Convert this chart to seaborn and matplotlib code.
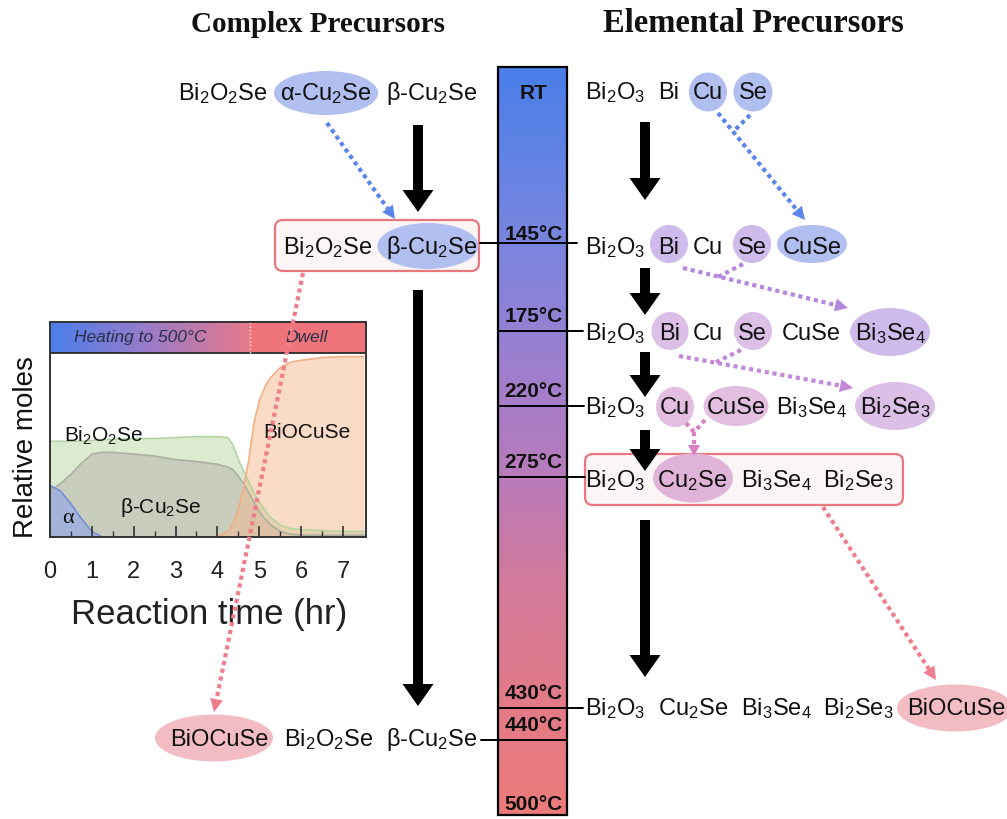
import numpy as np
import pandas as pd
import matplotlib
matplotlib.use("Agg")
import matplotlib.pyplot as plt
import seaborn as sns
from matplotlib.patches import Ellipse, FancyBboxPatch, FancyArrow, Polygon, Rectangle
from matplotlib.colors import LinearSegmentedColormap

# ---------------- inset: phase fractions vs. reaction time ----------------
time_hr = [0, 0.25, 0.5, 0.75, 1.0, 1.25, 1.5, 2.0, 2.5, 3.0, 3.5, 4.0, 4.25,
           4.375, 4.5, 4.625, 4.75, 4.875, 5.0, 5.125, 5.25, 5.5, 5.75, 6.0,
           6.5, 7.0, 7.5]
bi2o2se = [0.52, 0.52, 0.52, 0.52, 0.525, 0.53, 0.53, 0.535, 0.535, 0.54,
           0.545, 0.545, 0.54, 0.50, 0.42, 0.36, 0.30, 0.24, 0.19, 0.15, 0.11,
           0.065, 0.045, 0.04, 0.035, 0.03, 0.03]
beta_cu2se = [0.25, 0.29, 0.34, 0.40, 0.45, 0.46, 0.46, 0.45, 0.44, 0.42,
              0.41, 0.395, 0.38, 0.365, 0.33, 0.29, 0.24, 0.19, 0.14, 0.10,
              0.07, 0.03, 0.015, 0.01, 0.01, 0.01, 0.01]
alpha_cu2se = [0.28, 0.25, 0.18, 0.10, 0.03, 0, 0, 0, 0, 0, 0, 0, 0, 0, 0,
               0, 0, 0, 0, 0, 0, 0, 0, 0, 0, 0, 0]
biocuse = [0, 0, 0, 0, 0, 0, 0, 0, 0, 0, 0, 0, 0.03, 0.07, 0.15, 0.27, 0.42,
           0.62, 0.74, 0.81, 0.86, 0.92, 0.95, 0.96, 0.975, 0.98, 0.98]
heating_end_hr = 4.77
inset_ticks = [0, 1, 2, 3, 4, 5, 6, 7]

# ---------------- reaction pathway labels ----------------
titles = ["Complex Precursors", "Elemental Precursors"]
complex_rows = [
    ["Bi$_2$O$_2$Se", "α-Cu$_2$Se", "β-Cu$_2$Se"],
    ["Bi$_2$O$_2$Se", "β-Cu$_2$Se"],
    ["BiOCuSe", "Bi$_2$O$_2$Se", "β-Cu$_2$Se"],
]
elemental_rows = [
    ["Bi$_2$O$_3$", "Bi", "Cu", "Se"],
    ["Bi$_2$O$_3$", "Bi", "Cu", "Se", "CuSe"],
    ["Bi$_2$O$_3$", "Bi", "Cu", "Se", "CuSe", "Bi$_3$Se$_4$"],
    ["Bi$_2$O$_3$", "Cu", "CuSe", "Bi$_3$Se$_4$", "Bi$_2$Se$_3$"],
    ["Bi$_2$O$_3$", "Cu$_2$Se", "Bi$_3$Se$_4$", "Bi$_2$Se$_3$"],
    ["Bi$_2$O$_3$", "Cu$_2$Se", "Bi$_3$Se$_4$", "Bi$_2$Se$_3$", "BiOCuSe"],
]
temperature_labels = ["RT", "145°C", "175°C", "220°C", "275°C", "430°C",
                      "440°C", "500°C"]

# ---------------- layout (pixel canvas) ----------------
W, H = 1007, 819
title_x = [318, 753]
title_pt = [21, 23.5]
complex_y = [92, 246, 738]
complex_x = [[223, 326, 432], [328, 432], [219, 329, 432]]
elemental_y = [91, 246, 332, 406, 479, 707]
elemental_x = [[615, 669, 708, 753],
               [615, 669, 708, 752, 812],
               [615, 670, 708, 752, 811, 890],
               [615, 675, 736, 811, 895],
               [615, 692, 776, 858],
               [615, 693, 776, 858, 956]]

BLUE, LAV, LAV2, PLUM, MAUVE, PINK = ("#b0bef0", "#cfbbeb", "#dcbfe7",
                                      "#e3bee1", "#e0b4d9", "#f3bcc3")
highlights = [  # cx, cy, w, h, colour
    (326, 93, 104, 44, BLUE), (428, 246, 101, 46, BLUE), (214, 738, 118, 47, PINK),
    (708, 92, 38, 39, BLUE), (753, 92, 39, 39, BLUE),
    (669, 244, 38, 38, LAV), (752, 244, 38, 38, LAV), (812, 244, 70, 38, BLUE),
    (670, 331, 37, 38, LAV2), (753, 331, 38, 38, LAV2), (890, 332, 80, 48, LAV),
    (675, 407, 38, 40, PLUM), (736, 406, 65, 40, PLUM), (895, 406, 80, 48, LAV2),
    (693, 478, 80, 49, MAUVE), (955, 708, 116, 47, PINK),
]

bar_x0, bar_x1, bar_y0, bar_y1 = 498, 567, 67, 815
temp_label_y = [92, 233, 315, 390, 461, 692, 724, 803]
marker_lines = [(243, 480, 577), (331, 498, 583), (406, 498, 584),
                (477, 498, 585), (708, 498, 583), (740, 481, 567)]

sns.set_theme(style="white")
plt.rcParams["font.family"] = ["Liberation Sans", "DejaVu Sans"]
plt.rcParams["mathtext.default"] = "regular"

fig = plt.figure(figsize=(W / 100, H / 100), dpi=100)
ax = fig.add_axes([0, 0, 1, 1], zorder=0)
ax.set_xlim(0, W)
ax.set_ylim(H, 0)
ax.axis("off")

overlay = fig.add_axes([0, 0, 1, 1], zorder=5)
overlay.set_xlim(0, W)
overlay.set_ylim(H, 0)
overlay.axis("off")
overlay.patch.set_alpha(0)

SPECIES_PT = 17


def chem(axis, x, yc, s, size=SPECIES_PT, **kw):
    axis.text(x, yc + 0.716 * size * 100 / 72 / 2, s, ha="center",
              va="baseline", fontsize=size, color="#111111", zorder=6, **kw)


def dotted_arrow(axis, paths, color, head_len=13, head_w=13, lw=3.0):
    for i, pts in enumerate(paths):
        pts = np.asarray(pts, float)
        if i == 0:
            tip, prev = pts[-1], pts[-2]
            u = (tip - prev) / np.linalg.norm(tip - prev)
            base = tip - u * head_len
            n = np.array([-u[1], u[0]])
            axis.add_patch(Polygon([tip, base + n * head_w / 2, base - n * head_w / 2],
                                   closed=True, fc=color, ec="none", zorder=7))
            pts = np.vstack([pts[:-1], base])
        axis.plot(pts[:, 0], pts[:, 1], color=color, lw=lw, ls=(0, (1, 0.9)),
                  dash_capstyle="butt", zorder=7)


def block_arrow(axis, x, y0, y1):
    axis.add_patch(FancyArrow(x, y0, 0, y1 - y0, width=10, head_width=31,
                              head_length=22, length_includes_head=True,
                              fc="black", ec="none", zorder=5))


# titles
for txt, cx, pt in zip(titles, title_x, title_pt):
    ax.text(cx, 32, txt, ha="center", va="baseline", fontsize=pt,
            family="Liberation Serif", weight="bold", color="#111111")

# highlighted boxes for the key intermediate stage
ax.add_patch(FancyBboxPatch((275, 220), 204, 51, boxstyle="round,pad=0,rounding_size=8",
                            fc="#fcf5f5", ec="#e8777f", lw=1.6, zorder=2))
ax.add_patch(FancyBboxPatch((585, 454), 318, 51, boxstyle="round,pad=0,rounding_size=8",
                            fc="#fcf5f5", ec="#e8777f", lw=1.6, zorder=2))

for cx, cy, w, h, c in highlights:
    ax.add_patch(Ellipse((cx, cy), w, h, fc=c, ec="none", zorder=3))

for row, yc, xs in zip(complex_rows, complex_y, complex_x):
    for s, x in zip(row, xs):
        chem(ax, x, yc, s)
for row, yc, xs in zip(elemental_rows, elemental_y, elemental_x):
    for s, x in zip(row, xs):
        chem(ax, x, yc, s)

# temperature bar
bar_cmap = LinearSegmentedColormap.from_list("heat", [
    (0.0, "#4a7fea"), (0.24, "#7b85de"), (0.35, "#9481d4"), (0.45, "#a87dc7"),
    (0.55, "#b97bba"), (0.68, "#d17a9e"), (0.85, "#e37a88"), (1.0, "#ec7a7a")])
ax.imshow(np.linspace(0, 1, 256)[:, None], cmap=bar_cmap, aspect="auto",
          extent=[bar_x0, bar_x1, bar_y1, bar_y0], origin="upper", zorder=1)
ax.add_patch(Rectangle((bar_x0, bar_y0), bar_x1 - bar_x0, bar_y1 - bar_y0,
                       fc="none", ec="black", lw=1.6, zorder=4))
for lab, yc in zip(temperature_labels, temp_label_y):
    ax.text((bar_x0 + bar_x1) / 2 + 1, yc + 0.716 * 15 * 100 / 72 / 2, lab,
            ha="center", va="baseline", fontsize=15, weight="bold",
            color="#111111", zorder=5)
for y, xa, xb in marker_lines:
    ax.plot([xa, xb], [y, y], color="black", lw=1.4, zorder=4)

# main progression arrows
block_arrow(ax, 418, 125, 212)
block_arrow(ax, 418, 290, 706)
block_arrow(ax, 645, 122, 200)
block_arrow(ax, 645, 268, 315)
block_arrow(ax, 645, 352, 397)
block_arrow(ax, 645, 430, 471)
block_arrow(ax, 645, 520, 677)

# reaction arrows
dotted_arrow(ax, [[(327, 123), (395, 219)]], "#5b85eb")
dotted_arrow(ax, [[(718, 113), (805, 220)], [(750, 115), (733, 132)]], "#5b85eb")
dotted_arrow(ax, [[(683, 268), (848, 308)], [(743, 264), (718, 277)]], "#b487e0")
dotted_arrow(ax, [[(679, 356), (853, 388)], [(741, 350), (716, 362)]], "#c48ad9")
dotted_arrow(ax, [[(694, 432), (694, 456)], [(686, 423), (694, 432)],
                  [(705, 420), (694, 432)]], "#d880c2", head_len=11, head_w=12)
dotted_arrow(overlay, [[(303, 273), (214, 712)]], "#ef7d8c")
dotted_arrow(ax, [[(823, 507), (936, 680)]], "#ef7d8c")

# ---------------- inset chart ----------------
ax_in = fig.add_axes([50 / W, (H - 537) / H, 316 / W, 215 / H], zorder=2)
x_max, y_top, band = 7.55, 1.0, 0.168
ax_in.fill_between(time_hr, bi2o2se, color="#dcebcf", lw=0, zorder=1)
ax_in.fill_between(time_hr, beta_cu2se, color="#c7ccbc", lw=0, zorder=2)
ax_in.fill_between(time_hr, alpha_cu2se, color="#a3b3da", lw=0, zorder=3)
ax_in.fill_between(time_hr, biocuse, color="#f5b98f", alpha=0.5, lw=0, zorder=4)

phases = pd.DataFrame({"time": time_hr, "Bi2O2Se": bi2o2se,
                       "beta-Cu2Se": beta_cu2se, "alpha-Cu2Se": alpha_cu2se,
                       "BiOCuSe": biocuse})
long = phases.melt("time", var_name="phase", value_name="moles")
edge_palette = {"Bi2O2Se": "#b3d3a2", "beta-Cu2Se": "#aab0a0",
                "alpha-Cu2Se": "#7390d0", "BiOCuSe": "#f2ad80"}
sns.lineplot(data=long, x="time", y="moles", hue="phase", palette=edge_palette,
             legend=False, ax=ax_in, lw=1.2, zorder=5)

heat_cmap = LinearSegmentedColormap.from_list("ramp", ["#4a7fea", "#9c7bc8", "#e6798a"])
ax_in.imshow(np.linspace(0, 1, 256)[None, :], cmap=heat_cmap, aspect="auto",
             extent=[0, heating_end_hr, y_top, y_top + band], origin="lower", zorder=6)
ax_in.add_patch(Rectangle((heating_end_hr, y_top), x_max - heating_end_hr, band,
                          fc="#ee7479", ec="none", zorder=6))
ax_in.axhline(y_top, color="#2a2a2a", lw=1.3, zorder=7)
ax_in.plot([heating_end_hr] * 2, [y_top, y_top + band], color="white", ls=":",
           lw=1.0, zorder=7)
ax_in.text(2.15, y_top + band / 2, "Heating to 500°C", style="italic", ha="center",
           va="center", fontsize=12.5, color="#28304a", zorder=8)
ax_in.text(6.13, y_top + band / 2, "Dwell", style="italic", ha="center",
           va="center", fontsize=12.5, color="#28304a", zorder=8)

ax_in.text(1.29, 0.55, "Bi$_2$O$_2$Se", ha="center", va="center", fontsize=15,
           color="#111111", zorder=8)
ax_in.text(6.13, 0.57, "BiOCuSe", ha="center", va="center", fontsize=15,
           color="#111111", zorder=8)
ax_in.text(2.63, 0.16, "β-Cu$_2$Se", ha="center", va="center", fontsize=15,
           color="#111111", zorder=8)
ax_in.text(0.43, 0.10, "α", ha="center", va="center", fontsize=16,
           family="Liberation Serif", color="#111111", zorder=8)

ax_in.set_xlim(0, x_max)
ax_in.set_ylim(0, y_top + band)
ax_in.set_xticks(inset_ticks)
ax_in.set_xticks(np.arange(0.5, 7.5, 1.0), minor=True)
ax_in.set_yticks([])
ax_in.tick_params(axis="x", which="major", direction="in", length=8, width=1.2,
                  bottom=True, labelsize=17, pad=17, colors="#333333",
                  labelcolor="#222222")
ax_in.tick_params(axis="x", which="minor", direction="in", length=4, width=1.0,
                  bottom=True, colors="#333333")
ax_in.xaxis.set_zorder(9)
for sp in ax_in.spines.values():
    sp.set_color("#333333")
    sp.set_linewidth(1.4)
    sp.set_zorder(9)
ax_in.set_xlabel("Reaction time (hr)", fontsize=25, color="#222222")
ax_in.xaxis.set_label_coords(0.503, -0.284)
ax_in.set_ylabel("Relative moles", fontsize=20, color="#111111")
ax_in.yaxis.set_label_coords(-0.035, 0.42)

fig.savefig("out.png", dpi=100)
